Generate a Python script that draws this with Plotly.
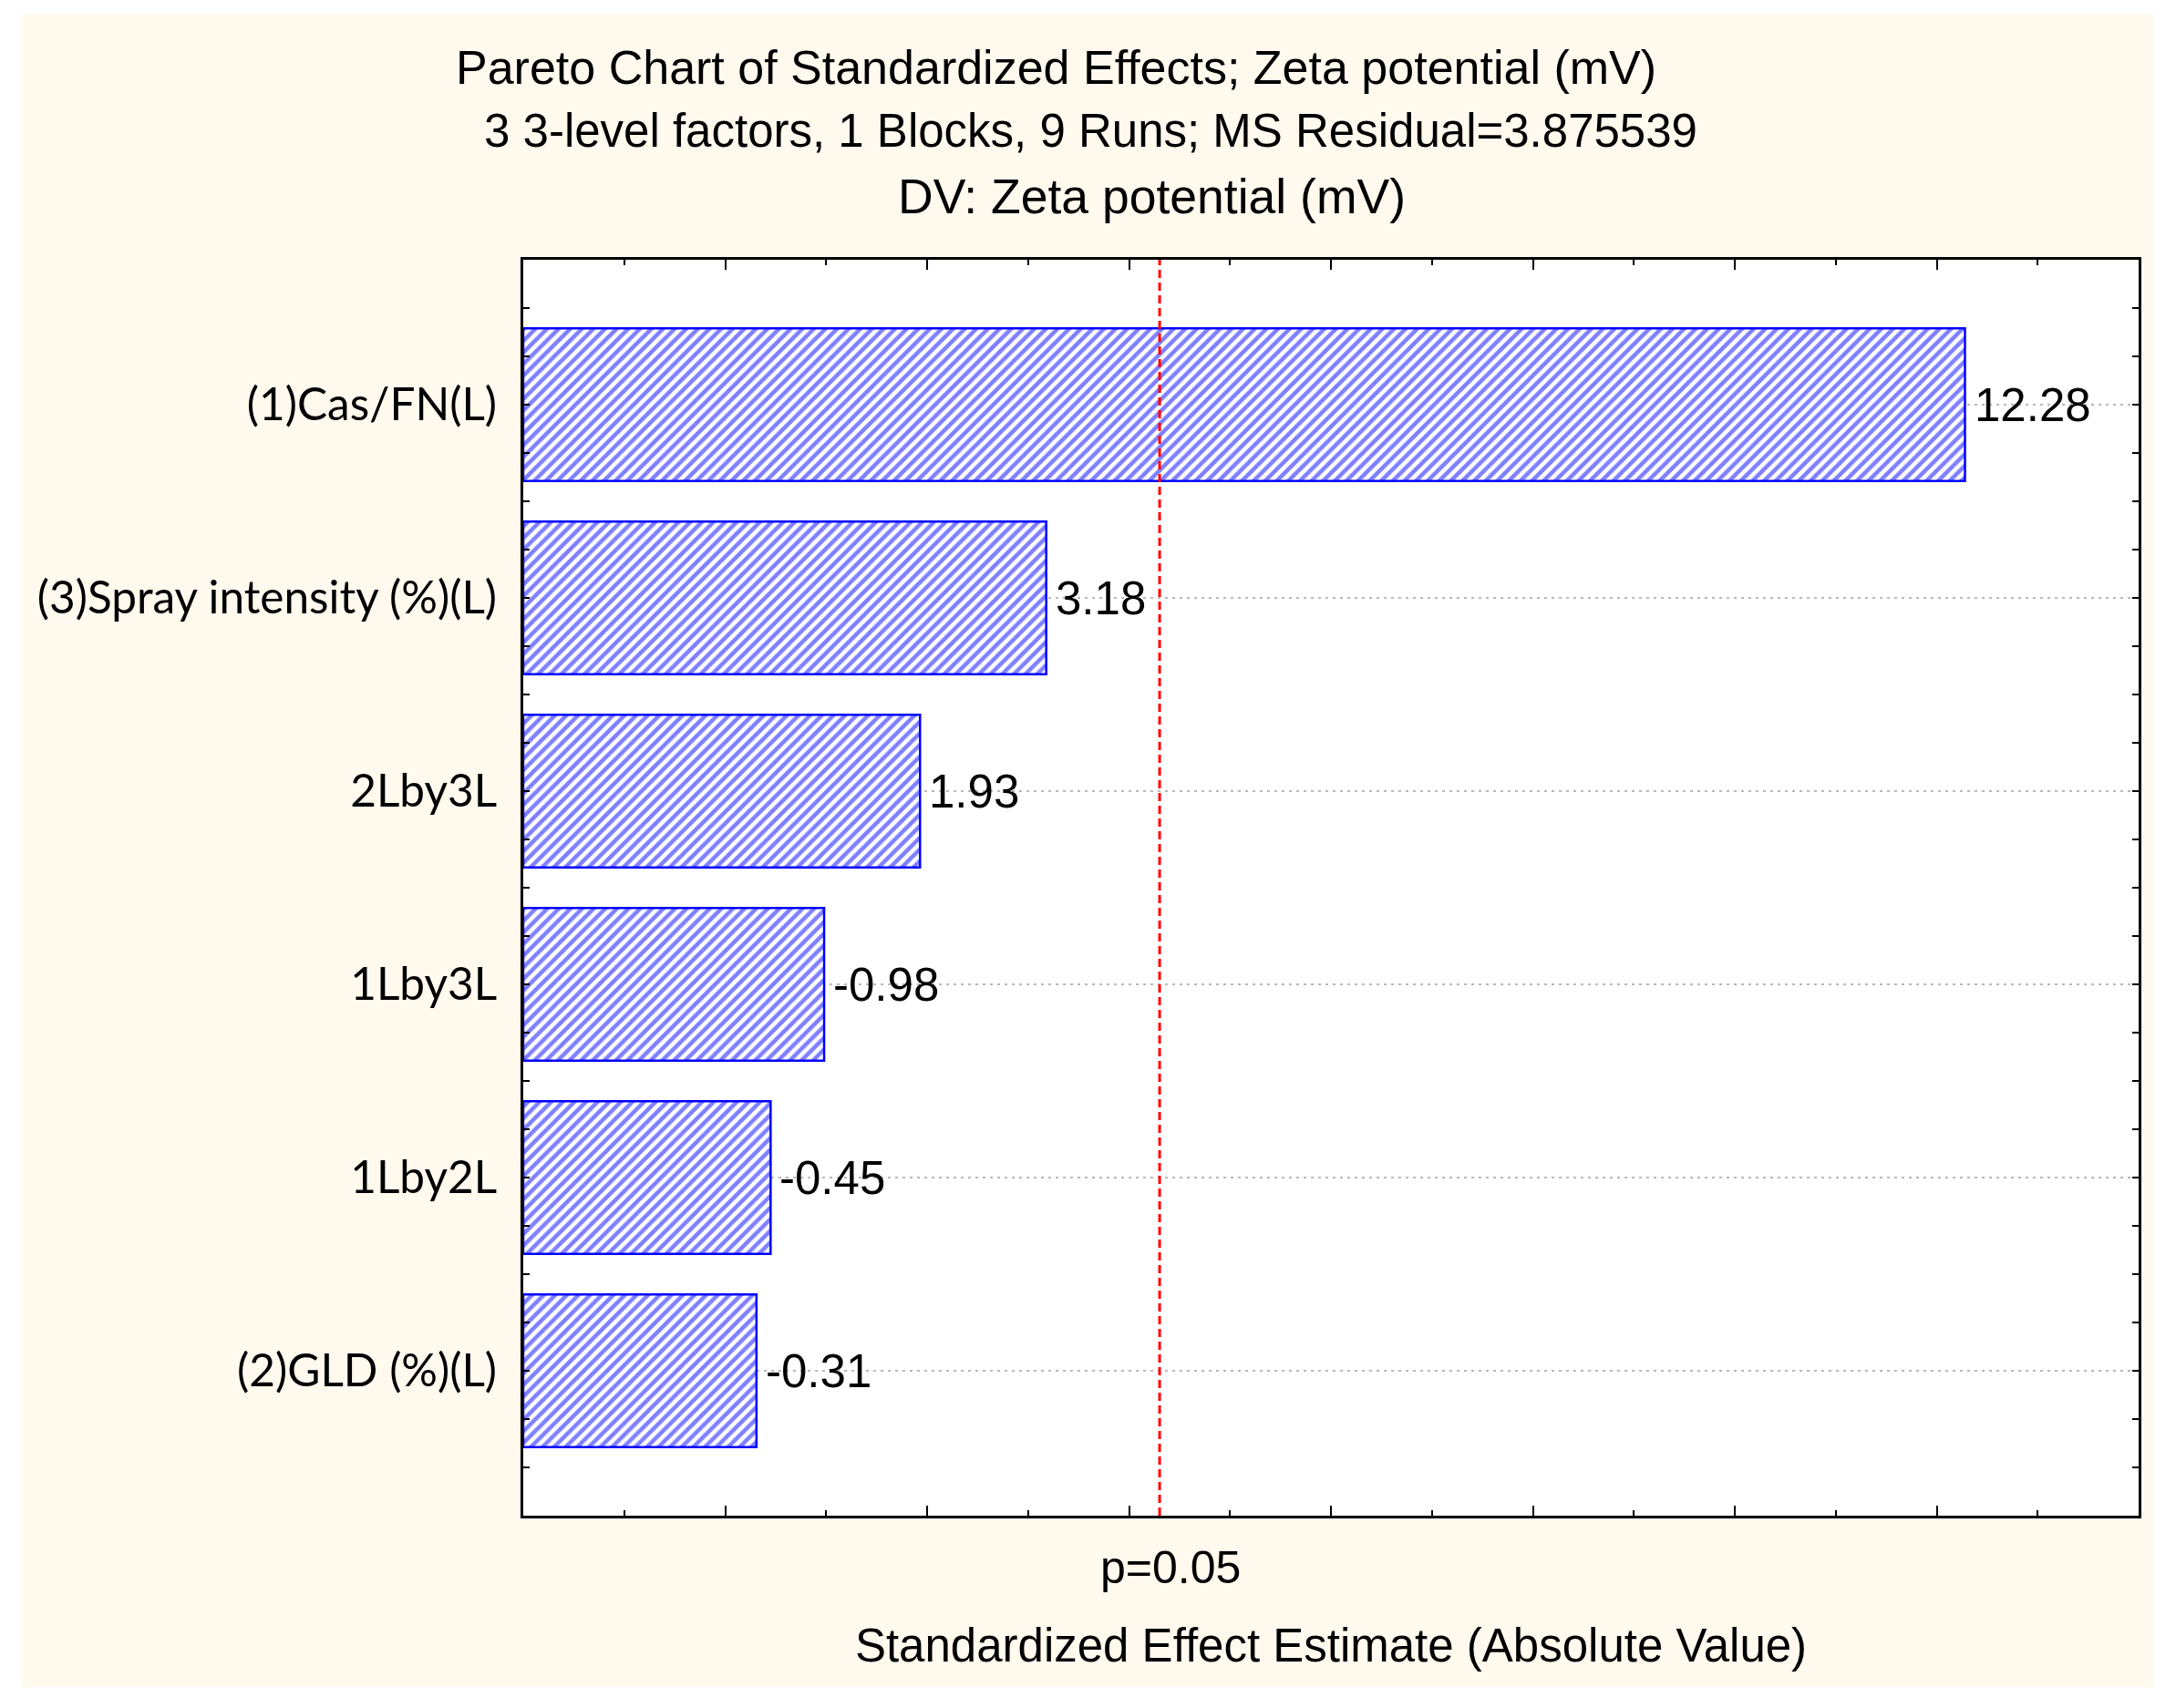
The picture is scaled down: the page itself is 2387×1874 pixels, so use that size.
import plotly.graph_objects as go

# ---- data ----
categories = ["(1)Cas/FN(L)", "(3)Spray intensity (%)(L)", "2Lby3L",
              "1Lby3L", "1Lby2L", "(2)GLD (%)(L)"]
effects = [12.28, 3.18, 1.93, -0.98, -0.45, -0.31]
t_crit = 4.303          # p = 0.05 critical value
p_label = "p=0.05"
x_min, x_max = -2, 14

title_lines = ["Pareto Chart of Standardized Effects; Zeta potential (mV)",
               "3 3-level factors, 1 Blocks, 9 Runs; MS Residual=3.875539",
               "DV: Zeta potential (mV)"]
x_title = "Standardized Effect Estimate (Absolute Value)"

# ---- derived ----
positions = list(range(len(categories)))
abs_eff = [abs(e) for e in effects]
labels = [f"{e:.2f}" for e in effects]

ARIAL = "Liberation Sans, Arial, sans-serif"
LABEL_FONT = "Lato, Open Sans, sans-serif"
W, H = 2387, 1874
ml, mr, mt, mb = 574, 41, 285, 211
pw, ph = W - ml - mr, H - mt - mb

def px_x(p):
    return (p - ml) / pw

def px_y(p):
    return (H - mb - p) / ph

fig = go.Figure()
fig.add_trace(go.Bar(
    orientation="h",
    y=positions,
    x=[a - x_min for a in abs_eff],
    base=x_min,
    width=0.79,
    marker=dict(
        color="white",
        line=dict(color="#0000FF", width=2.5),
        pattern=dict(shape="/", fgcolor="#0000FF", bgcolor="white",
                     size=9, solidity=0.5),
    ),
    hoverinfo="skip",
))

annotations = []
for a, yv, lab in zip(abs_eff, positions, labels):
    annotations.append(dict(
        x=a, y=yv, xref="x", yref="y", text=lab, showarrow=False,
        xanchor="left", yanchor="middle", xshift=8,
        font=dict(family=ARIAL, size=51, color="black")))

annotations.append(dict(
    x=t_crit, y=px_y(1720), xref="x", yref="paper", text=p_label,
    showarrow=False, xanchor="center", yanchor="middle", xshift=12,
    font=dict(family=ARIAL, size=50, color="black")))

title_pos = [(1158, 74), (1196, 143), (1263, 215)]
title_sizes = [52, 51, 53.5]
for line, (cx, cy), fs in zip(title_lines, title_pos, title_sizes):
    annotations.append(dict(
        x=px_x(cx), y=px_y(cy), xref="paper", yref="paper", text=line,
        showarrow=False, xanchor="center", yanchor="middle",
        font=dict(family=ARIAL, size=fs, color="black")))

shapes = [
    dict(type="rect", xref="paper", yref="paper", layer="below",
         x0=px_x(23), x1=px_x(2362), y0=px_y(1851), y1=px_y(16),
         fillcolor="#FFF9EE", line=dict(width=0)),
    dict(type="rect", xref="paper", yref="paper", layer="below",
         x0=0, x1=1, y0=0, y1=1, fillcolor="white", line=dict(width=0)),
    dict(type="line", xref="x", yref="paper", x0=t_crit, x1=t_crit,
         y0=0, y1=1, line=dict(color="#FF0000", width=3, dash="9px,5px")),
]

fig.update_layout(
    width=W, height=H,
    margin=dict(l=ml, r=mr, t=mt, b=mb, pad=0),
    paper_bgcolor="white",
    plot_bgcolor="white",
    showlegend=False,
    annotations=annotations,
    shapes=shapes,
    xaxis=dict(
        range=[x_min, x_max], showticklabels=False, showgrid=False,
        zeroline=False, showline=True, linecolor="black", linewidth=3,
        mirror="ticks", ticks="inside", tick0=0, dtick=2,
        ticklen=11, tickwidth=2, tickcolor="black",
        minor=dict(dtick=1, ticks="inside", ticklen=6, tickwidth=2,
                   tickcolor="black", showgrid=False),
        title=dict(text=x_title, standoff=123,
                   font=dict(family=ARIAL, size=51, color="black")),
    ),
    yaxis=dict(
        range=[len(categories) - 0.25, -0.75],
        tickmode="array", tickvals=positions, ticktext=categories,
        tickfont=dict(family=LABEL_FONT, size=49.5, color="black"),
        ticks="inside", ticklen=7, tickwidth=2, tickcolor="black",
        ticklabelstandoff=16,
        showgrid=True, gridcolor="#B8B8B8", gridwidth=2, griddash="3px,5px",
        zeroline=False, showline=True, linecolor="black", linewidth=3,
        mirror="ticks",
        minor=dict(tickmode="linear", tick0=0, dtick=0.25, ticks="inside",
                   ticklen=7, tickwidth=2, tickcolor="black", showgrid=False),
    ),
)

fig.write_html(
    "out.html",
    config={"displayModeBar": False},
    post_script="document.body.style.margin='0px';"
                "document.body.style.overflow='hidden';",
)
